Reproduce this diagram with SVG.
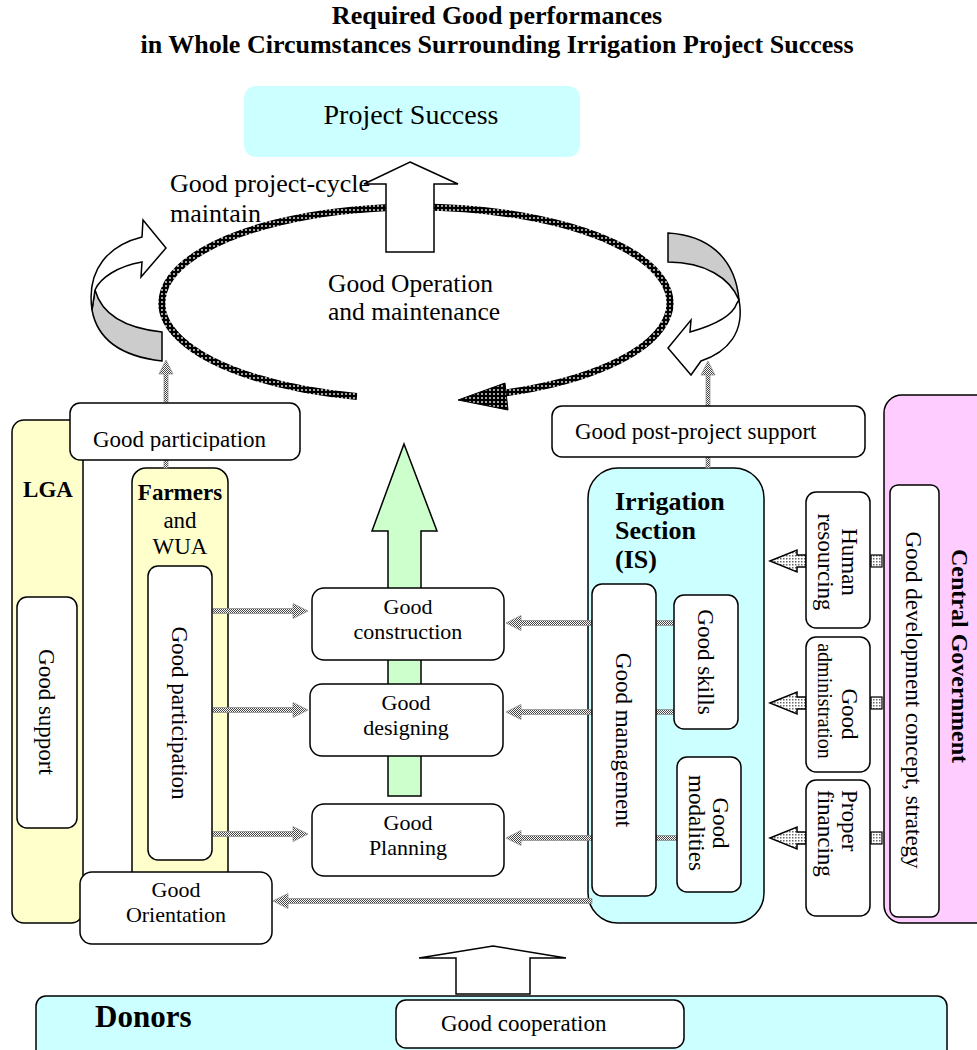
<svg xmlns="http://www.w3.org/2000/svg" width="977" height="1050" viewBox="0 0 977 1050">
<style>
text{font-family:"Liberation Serif","Times New Roman",serif;fill:#000}
.t{font-size:23px}
.s{font-size:22px}
.c{text-anchor:middle}
.b{font-weight:bold}
.box{fill:#fff;stroke:#000;stroke-width:1.5}
.ylw{fill:#ffffcc;stroke:#000;stroke-width:1.5}
.cyan{fill:#ccffff;stroke:#000;stroke-width:1.5}
.pink{fill:#ffccff;stroke:#000;stroke-width:1.5}
.con{fill:url(#chk);stroke:#888;stroke-width:0.7}
.blk{fill:url(#dot);stroke:#000;stroke-width:1.5}
.lad{fill:url(#dot);stroke:#000;stroke-width:1.2}
.ring{fill:none;stroke:url(#ringpat);stroke-width:7}
.wa{fill:#fff;stroke:#000;stroke-width:1.5}
.ga{fill:#cccccc;stroke:#000;stroke-width:1.5}
</style>
<defs>
  <pattern id="chk" width="2" height="2" patternUnits="userSpaceOnUse">
    <rect width="2" height="2" fill="#fff"/>
    <rect width="1" height="1" fill="#444"/>
    <rect x="1" y="1" width="1" height="1" fill="#444"/>
  </pattern>
  <pattern id="dot" width="3" height="3" patternUnits="userSpaceOnUse">
    <rect width="3" height="3" fill="#fff"/>
    <rect width="1.5" height="1.5" fill="#666"/>
  </pattern>
  <pattern id="ringpat" width="4" height="4" patternUnits="userSpaceOnUse">
    <rect width="4" height="4" fill="#000"/>
    <rect x="1.2" y="1.2" width="1.6" height="1.6" fill="#fff"/>
  </pattern>
  <clipPath id="clipPart"><rect x="70" y="403" width="232" height="48"/></clipPath>
</defs>

<!-- title -->
<g id="title">
  <text x="497" y="23.5" class="c b" style="font-size:26px">Required Good performances</text>
  <text x="497" y="53" class="c b" style="font-size:26px">in Whole Circumstances Surrounding Irrigation Project Success</text>
</g>

<!-- goal -->
<g id="project-success">
  <rect x="244" y="86" width="336" height="71" rx="12" fill="#ccffff"/>
  <text x="411" y="124" class="c" style="font-size:28px">Project Success</text>
</g>

<!-- operation & maintenance cycle -->
<g id="om-cycle">
  <text x="170" y="192" style="font-size:26px">Good project-cycle</text>
  <text x="170" y="222" style="font-size:26px">maintain</text>
  <path class="ring" d="M357 396.4 A254 96 0 1 1 503 393.2"/>
  <polygon points="458,400 505,383 508,410" fill="url(#ringpat)" stroke="#000" stroke-width="1"/>
  <text x="328" y="292" style="font-size:25.5px">Good Operation</text>
  <text x="328" y="320" style="font-size:25.5px">and maintenance</text>
  <polygon class="wa" points="410,162 458,184 434,184 434,252 386,252 386,184 364,184"/>
</g>

<!-- left curled arrow -->
<g id="curl-left">
  <path class="ga" d="M95 290 Q105 326 162 332 L162 361 Q100 354 92 310 Z"/>
  <path class="wa" d="M92 310 C86 268 110 245 142 237 L143 220 L166 248 L141 277 L142 262 C118 266 100 278 95 290 Z"/>
</g>

<!-- right curled arrow -->
<g id="curl-right">
  <path class="ga" d="M668 233 C705 235 735 255 739 300 C730 278 705 262 668 262 Z"/>
  <path class="wa" d="M739 300 C745 332 728 352 701 361 L691 375 L668 348 L691 320 L690 332 C715 325 733 315 737 303 Z"/>
</g>

<!-- containers -->
<g id="lga">
  <rect class="ylw" x="12" y="420" width="71" height="503" rx="12"/>
  <text x="48" y="497" class="c b" style="font-size:23px">LGA</text>
</g>
<g id="farmers-wua">
  <rect class="ylw" x="132" y="468" width="96" height="432" rx="14"/>
  <text x="180" y="500" class="c b" style="font-size:23px">Farmers</text>
  <text x="180" y="528" class="c t">and</text>
  <text x="180" y="554" class="c t">WUA</text>
</g>
<g id="irrigation-section">
  <rect class="cyan" x="588" y="468" width="176" height="455" rx="30"/>
  <text x="615" y="510" class="b" style="font-size:26px">Irrigation</text>
  <text x="615" y="539" class="b" style="font-size:26px">Section</text>
  <text x="615" y="568" class="b" style="font-size:26px">(IS)</text>
</g>
<g id="central-government">
  <rect class="pink" x="884" y="395" width="110" height="528" rx="18"/>
  <text transform="translate(960 656) rotate(90)" y="8" class="c b" style="font-size:24px">Central Government</text>
</g>
<g id="donors">
  <rect class="cyan" x="36" y="996" width="911" height="66" rx="10"/>
  <text x="95" y="1027" class="b" style="font-size:31px">Donors</text>
</g>

<!-- connectors -->
<g id="connectors">
  <!-- upward feeds into the cycle -->
  <path class="con" d="M164 402 V374 H159 L166 360 L173 374 H168 V402 Z"/>
  <rect class="con" x="164" y="460" width="4" height="8"/>
  <path class="con" d="M706 406 V375 H701 L708 361 L715 375 H710 V406 Z"/>
  <rect class="con" x="706" y="457" width="4" height="11"/>
  <!-- farmers to project stages -->
  <path class="con" d="M213 608.5 H293 V603.5 L308 611 L293 618.5 V613.5 H213 Z"/>
  <path class="con" d="M213 707.5 H293 V702.5 L308 710 L293 717.5 V712.5 H213 Z"/>
  <path class="con" d="M213 831.5 H293 V826.5 L308 834 L293 841.5 V836.5 H213 Z"/>
  <!-- irrigation section to project stages -->
  <path class="con" d="M674 620.5 H521 V615.5 L506 623 L521 630.5 V625.5 H674 Z"/>
  <path class="con" d="M674 709.5 H521 V704.5 L506 712 L521 719.5 V714.5 H674 Z"/>
  <path class="con" d="M677 835.5 H521 V830.5 L506 838 L521 845.5 V840.5 H677 Z"/>
  <path class="con" d="M592 898.5 H288 V893.5 L273 901 L288 908.5 V903.5 H592 Z"/>
  <!-- central government to irrigation section -->
  <path class="blk" d="M770 561 L797 550 V555 H806 V567 H797 V572 Z"/>
  <path class="blk" d="M770 703 L797 692 V697 H806 V709 H797 V714 Z"/>
  <path class="blk" d="M770 838 L797 827 V832 H806 V844 H797 V849 Z"/>
  <rect class="lad" x="871" y="555" width="11" height="12"/>
  <rect class="lad" x="871" y="697" width="11" height="12"/>
  <rect class="lad" x="871" y="832" width="11" height="12"/>
</g>

<!-- project stage arrow -->
<g id="stage-arrow">
  <polygon points="404,444 437,531 421,531 421,796 388,796 388,531 372,531" fill="#ccffcc" stroke="#000" stroke-width="1.5"/>
</g>
<g id="donor-arrow">
  <polygon class="wa" points="493,946 566,958 530,958 530,994 456,994 456,958 419,958"/>
</g>

<!-- nodes -->
<g id="good-participation-top">
  <rect class="box" x="70" y="403" width="230" height="57" rx="10"/>
  <text x="93" y="447" class="t" clip-path="url(#clipPart)">Good participation</text>
</g>
<g id="good-post-project-support">
  <rect class="box" x="552" y="406" width="313" height="51" rx="10"/>
  <text x="575" y="439" class="t">Good post-project support</text>
</g>
<g id="good-support">
  <rect class="box" x="17" y="597" width="60" height="231" rx="10"/>
  <text transform="translate(47 712) rotate(90)" y="8" class="c t">Good support</text>
</g>
<g id="good-participation">
  <rect class="box" x="148" y="566" width="64" height="294" rx="10"/>
  <text transform="translate(180 713) rotate(90)" y="8" class="c t">Good participation</text>
</g>
<g id="good-orientation">
  <rect class="box" x="80" y="872" width="192" height="72" rx="12"/>
  <text x="176" y="897" class="c s">Good</text>
  <text x="176" y="922" class="c s">Orientation</text>
</g>
<g id="good-construction">
  <rect class="box" x="312" y="588" width="192" height="72" rx="12"/>
  <text x="408" y="614" class="c s">Good</text>
  <text x="408" y="639" class="c s">construction</text>
</g>
<g id="good-designing">
  <rect class="box" x="310" y="684" width="193" height="72" rx="12"/>
  <text x="406" y="710" class="c s">Good</text>
  <text x="406" y="735" class="c s">designing</text>
</g>
<g id="good-planning">
  <rect class="box" x="312" y="804" width="192" height="72" rx="12"/>
  <text x="408" y="830" class="c s">Good</text>
  <text x="408" y="855" class="c s">Planning</text>
</g>
<g id="good-management">
  <rect class="box" x="592" y="584" width="64" height="312" rx="10"/>
  <text transform="translate(624 740) rotate(90)" y="8" class="c t">Good management</text>
</g>
<g id="good-skills">
  <rect class="box" x="674" y="595" width="64" height="134" rx="10"/>
  <text transform="translate(706 662) rotate(90)" y="8" class="c t">Good skills</text>
</g>
<g id="good-modalities">
  <rect class="box" x="677" y="757" width="64" height="135" rx="10"/>
  <g transform="translate(709 823) rotate(90)">
    <text y="-4" class="c t">Good</text>
    <text y="20" class="c t">modalities</text>
  </g>
</g>
<g id="human-resourcing">
  <rect class="box" x="806" y="492" width="64" height="136" rx="10"/>
  <g transform="translate(838 562) rotate(90)">
    <text y="-4" class="c t">Human</text>
    <text y="20" class="c t">resourcing</text>
  </g>
</g>
<g id="good-administration">
  <rect class="box" x="806" y="637" width="64" height="135" rx="10"/>
  <g transform="translate(838 704) rotate(90)">
    <text x="10" y="-4" class="c t">Good</text>
    <text x="-3" y="20" class="c" style="font-size:20px">administration</text>
  </g>
</g>
<g id="proper-financing">
  <rect class="box" x="806" y="780" width="64" height="136" rx="10"/>
  <g transform="translate(838 790) rotate(90)">
    <text y="-4" class="t">Proper</text>
    <text y="20" class="t">financing</text>
  </g>
</g>
<g id="good-development-concept">
  <rect class="box" x="890" y="485" width="49" height="432" rx="8"/>
  <text transform="translate(914 700) rotate(90)" y="8" class="c t">Good development concept, strategy</text>
</g>
<g id="good-cooperation">
  <rect class="box" x="396" y="1000" width="288" height="48" rx="10"/>
  <text x="441" y="1031" class="t">Good cooperation</text>
</g>
</svg>
